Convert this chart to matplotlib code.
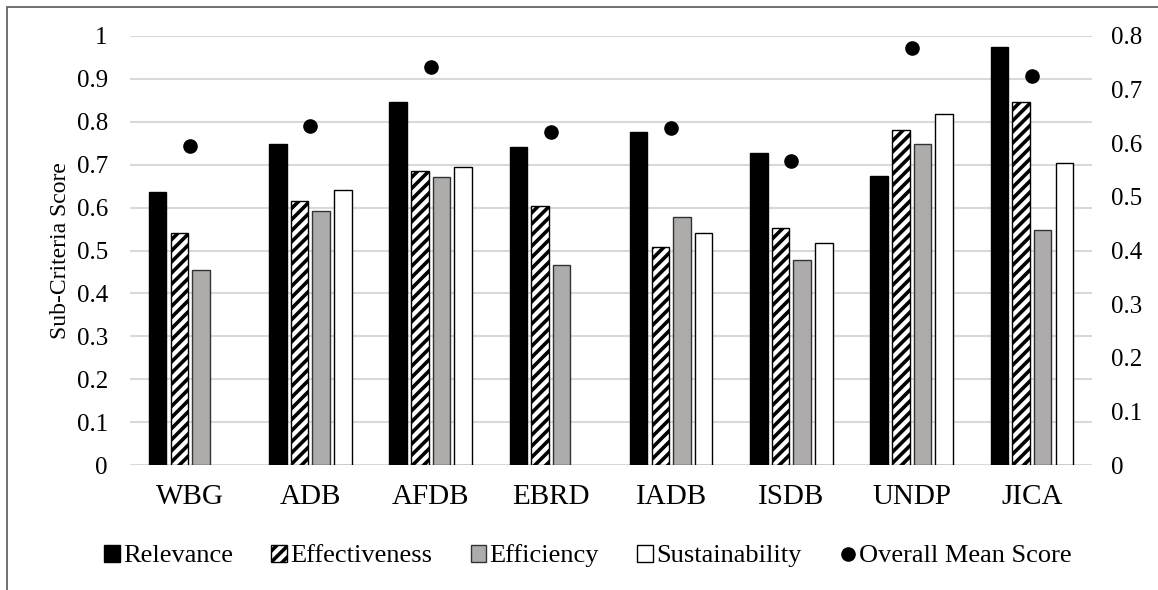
import numpy as np
import matplotlib
matplotlib.use("Agg")
import matplotlib.pyplot as plt
from matplotlib.patches import Rectangle

# datos
orgs = ["WBG", "ADB", "AFDB", "EBRD", "IADB", "ISDB", "UNDP", "JICA"]
relevance = [0.636, 0.748, 0.845, 0.741, 0.777, 0.727, 0.674, 0.974]
effectiveness = [0.541, 0.616, 0.685, 0.604, 0.507, 0.552, 0.782, 0.845]
efficiency = [0.454, 0.591, 0.671, 0.466, 0.578, 0.477, 0.748, 0.547]
sustainability = [np.nan, 0.642, 0.694, np.nan, 0.540, 0.517, 0.819, 0.703]
overall = [0.595, 0.632, 0.743, 0.621, 0.629, 0.566, 0.777, 0.726]

plt.rcParams["font.family"] = ["Liberation Serif", "DejaVu Serif"]
plt.rcParams["hatch.linewidth"] = 2.6
plt.rcParams["hatch.color"] = "black"

fig = plt.figure(figsize=(11.58, 5.90), dpi=100)
ax = fig.add_axes([130 / 1158, 125 / 590, 962 / 1158, 429 / 590])

x = np.arange(len(orgs))
w = 0.145
step = 0.18

ax.bar(x - 1.5 * step, relevance, w, color="black", edgecolor="black",
       linewidth=1, zorder=3, label="Relevance")
ax.bar(x - 0.5 * step, effectiveness, w, color="white", edgecolor="black",
       hatch="///", linewidth=1, zorder=3, label="Effectiveness")
ax.bar(x + 0.5 * step, efficiency, w, color="#aeabab", edgecolor="#333333",
       linewidth=1, zorder=3, label="Efficiency")
ax.bar(x + 1.5 * step, sustainability, w, color="white", edgecolor="black",
       linewidth=1, zorder=3, label="Sustainability")

ax.set_xlim(-0.5, len(orgs) - 0.5)
ax.set_ylim(0, 1)
ax.set_yticks(np.arange(0, 1.01, 0.1))
ax.set_yticklabels([f"{v:g}" for v in np.arange(0, 1.01, 0.1).round(1)])
ax.set_xticks(x)
ax.set_xticklabels(orgs)
ax.tick_params(axis="y", length=0, pad=16, labelsize=18)
ax.tick_params(axis="x", length=0, pad=14, labelsize=21)
ax.grid(axis="y", color="#d9d9d9", linewidth=1.5, zorder=0)
ax.set_axisbelow(True)
for s in ax.spines.values():
    s.set_visible(False)
ax.set_ylabel("Sub-Criteria Score", fontsize=17, labelpad=4)

# eje derecho para el promedio
ax2 = ax.twinx()
ax2.plot(x, overall, "o", color="black", markersize=9.5, linestyle="none",
         zorder=5, label="Overall Mean Score")
ax2.set_ylim(0, 0.8)
ax2.set_yticks(np.arange(0, 0.81, 0.1))
ax2.set_yticklabels([f"{v:g}" for v in np.arange(0, 0.81, 0.1).round(1)])
ax2.tick_params(axis="y", length=0, pad=14, labelsize=18)
for s in ax2.spines.values():
    s.set_visible(False)

h1, l1 = ax.get_legend_handles_labels()
h2, l2 = ax2.get_legend_handles_labels()
fig.legend(h1 + h2, l1 + l2, loc="center left", bbox_to_anchor=(104 / 1158, 1 - 556 / 590),
           ncol=5, frameon=False, fontsize=19, handlelength=0.6, handleheight=0.6,
           handletextpad=0.12, columnspacing=1.45, borderaxespad=0, borderpad=0)

# marco de la figura
fig.patches.append(Rectangle((7 / 1158, -0.1), 1.2, 1.1 - 7 / 590, transform=fig.transFigure,
                             fill=False, edgecolor="#595959", linewidth=1.2))

fig.savefig("out.png", dpi=100)
